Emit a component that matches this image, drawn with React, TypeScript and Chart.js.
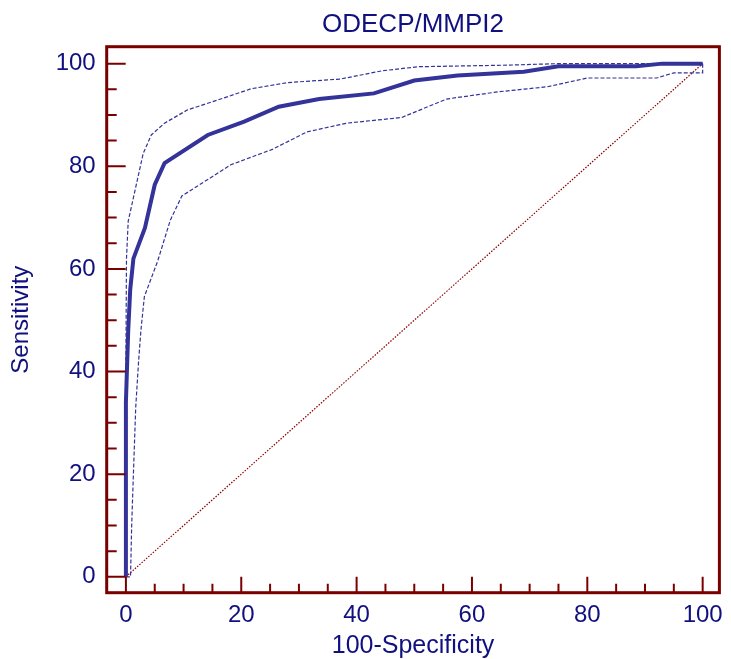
import React, { useEffect, useRef } from "react";
import { Chart, registerables } from "chart.js";

Chart.register(...registerables);

const TITLE = "ODECP/MMPI2";
const X_TITLE = "100-Specificity";
const Y_TITLE = "Sensitivity";

const MAJOR_TICKS = [0, 20, 40, 60, 80, 100];
const MINOR_TICKS = [5, 10, 15, 25, 30, 35, 45, 50, 55, 65, 70, 75, 85, 90, 95];

const rocX = [0, 0, 0.4, 0.75, 1.3, 3.3, 5.0, 6.7, 14.2, 20.5, 26.5, 33.5, 43, 50, 57.5, 69, 75, 88.5, 93, 100];
const rocY = [0, 34, 48, 56, 62, 68, 76.4, 80.6, 86.1, 88.7, 91.6, 93.1, 94.2, 96.7, 97.7, 98.4, 99.5, 99.5, 100, 100];

const upperX = [0, 0, 0.1, 0.4, 3.0, 4.4, 6.7, 10.7, 15.9, 21.7, 28, 37.2, 44.4, 50.7, 66, 75, 100];
const upperY = [0, 42, 62, 69.3, 82.5, 86.1, 88.4, 91, 92.9, 95.1, 96.3, 97, 98.6, 99.4, 99.7, 100, 100];

const lowerX = [0, 0.8, 1.0, 1.3, 1.7, 2.2, 2.6, 3.2, 5.5, 7.7, 9.7, 18.2, 25.4, 31.4, 38.3, 47.8, 55.6, 64.5, 73.1, 80, 92, 95, 100, 100];
const lowerY = [0, 0, 10, 20, 33, 42, 48, 54.6, 61.5, 69.5, 74.2, 80.3, 83.3, 86.7, 88.4, 89.5, 93.1, 94.5, 95.5, 97.2, 97.2, 98.2, 98.2, 100];

const diagX = [0, 100];
const diagY = [0, 100];

const TEXT_COLOR = "#10107f";
const FRAME_COLOR = "#7a0000";
const LINE_COLOR = "#333399";
const FONT = "'Liberation Sans', Arial, sans-serif";

const toPts = (xs: number[], ys: number[]) => xs.map((x, i) => ({ x, y: ys[i] }));

const framePlugin = {
  id: "frameTicks",
  afterDraw(chart: any) {
    const { ctx, chartArea } = chart;
    const xs = chart.scales.x;
    const ys = chart.scales.y;
    ctx.save();
    ctx.strokeStyle = FRAME_COLOR;
    ctx.lineWidth = 2;
    ctx.beginPath();
    MAJOR_TICKS.forEach((v) => {
      const px = xs.getPixelForValue(v);
      ctx.moveTo(px, chartArea.bottom);
      ctx.lineTo(px, chartArea.bottom - 16);
    });
    MINOR_TICKS.forEach((v) => {
      const px = xs.getPixelForValue(v);
      ctx.moveTo(px, chartArea.bottom);
      ctx.lineTo(px, chartArea.bottom - 9);
    });
    MAJOR_TICKS.forEach((v) => {
      const py = ys.getPixelForValue(v);
      ctx.moveTo(chartArea.left, py);
      ctx.lineTo(chartArea.left + 19, py);
    });
    MINOR_TICKS.forEach((v) => {
      const py = ys.getPixelForValue(v);
      ctx.moveTo(chartArea.left, py);
      ctx.lineTo(chartArea.left + 10, py);
    });
    ctx.stroke();
    ctx.lineWidth = 3;
    ctx.strokeRect(chartArea.left, chartArea.top, chartArea.right - chartArea.left, chartArea.bottom - chartArea.top);
    ctx.restore();
  },
};

export default function App() {
  const ref = useRef<HTMLCanvasElement | null>(null);
  useEffect(() => {
    if (!ref.current) return;
    const chart = new Chart(ref.current, {
      type: "line",
      data: {
        datasets: [
          {
            label: "ROC",
            data: toPts(rocX, rocY),
            borderColor: LINE_COLOR,
            borderWidth: 4,
            pointRadius: 0,
            tension: 0,
            order: 0,
          },
          {
            label: "Upper",
            data: toPts(upperX, upperY),
            borderColor: LINE_COLOR,
            borderWidth: 1.2,
            borderDash: [4, 2],
            pointRadius: 0,
            tension: 0,
            order: 1,
          },
          {
            label: "Lower",
            data: toPts(lowerX, lowerY),
            borderColor: LINE_COLOR,
            borderWidth: 1.2,
            borderDash: [4, 2],
            pointRadius: 0,
            tension: 0,
            order: 1,
          },
          {
            label: "Diagonal",
            data: toPts(diagX, diagY),
            borderColor: "#8b0000",
            borderWidth: 1.2,
            borderDash: [1.5, 1.5],
            pointRadius: 0,
            tension: 0,
            order: 2,
          },
        ],
      },
      options: {
        animation: false,
        responsive: false,
        maintainAspectRatio: false,
        layout: { padding: { left: 0, right: 8.3, top: 0, bottom: 0 } },
        plugins: {
          legend: { display: false },
          tooltip: { enabled: false },
          title: {
            display: true,
            fullSize: false,
            text: TITLE,
            color: TEXT_COLOR,
            font: { family: FONT, size: 26, weight: "normal", lineHeight: 1.2 },
            padding: { top: 9, bottom: 6.5 },
          },
        },
        scales: {
          x: {
            type: "linear",
            min: -3.33,
            max: 102.9,
            grid: { display: false, drawTicks: false },
            border: { display: false },
            afterBuildTicks: (s: any) => {
              s.ticks = MAJOR_TICKS.map((v) => ({ value: v }));
            },
            afterFit: (s: any) => {
              s.height = 66.3;
            },
            ticks: {
              color: TEXT_COLOR,
              padding: 8,
              autoSkip: false,
              maxRotation: 0,
              font: { family: FONT, size: 24 },
            },
            title: {
              display: true,
              text: X_TITLE,
              color: TEXT_COLOR,
              font: { family: FONT, size: 25, lineHeight: 1 },
              padding: { top: 0, bottom: 0 },
            },
          },
          y: {
            type: "linear",
            min: -3.1,
            max: 103.3,
            grid: { display: false, drawTicks: false },
            border: { display: false },
            afterBuildTicks: (s: any) => {
              s.ticks = MAJOR_TICKS.map((v) => ({ value: v }));
            },
            afterFit: (s: any) => {
              s.width = 106.7;
            },
            ticks: {
              color: TEXT_COLOR,
              padding: 11,
              autoSkip: false,
              font: { family: FONT, size: 24 },
            },
            title: {
              display: true,
              text: Y_TITLE,
              color: TEXT_COLOR,
              font: { family: FONT, size: 24, lineHeight: 1 },
              padding: { top: 9, bottom: 0 },
            },
          },
        },
      },
      plugins: [framePlugin],
    });
    return () => chart.destroy();
  }, []);
  return (
    <div style={{ position: "fixed", left: 0, top: 0, width: 731, height: 659, background: "#fff" }}>
      <canvas ref={ref} width={731} height={659} style={{ width: 731, height: 659, display: "block" }} />
    </div>
  );
}
